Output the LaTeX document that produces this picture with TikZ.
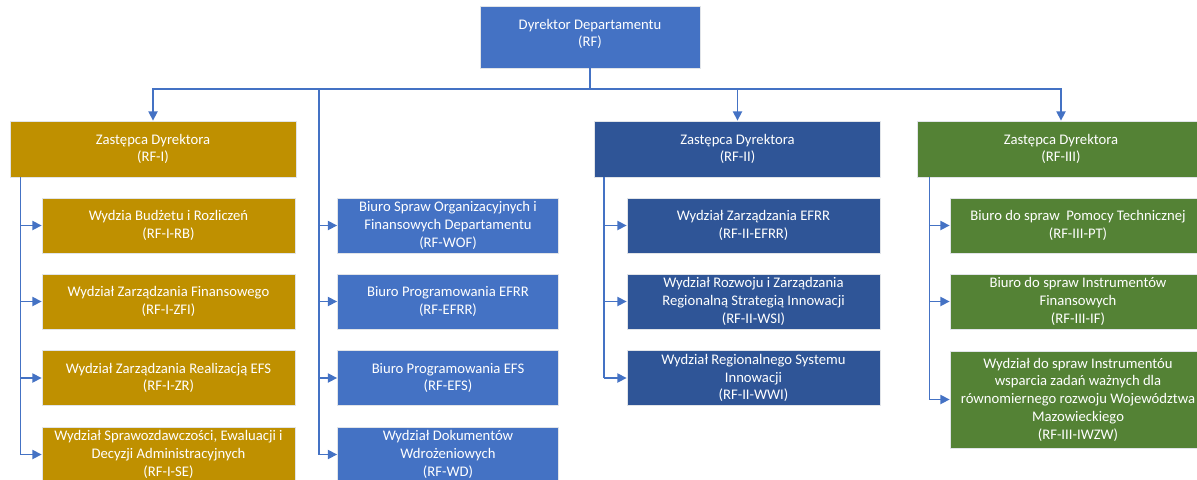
\documentclass[tikz,border=0pt]{standalone}
\usepackage{fontspec}
\setmainfont{Carlito}
\usepackage{xcolor}
\usepackage{tikz}
\usetikzlibrary{arrows.meta, positioning, calc}
\definecolor{directorblue}{RGB}{68,114,196}
\definecolor{deputygold}{RGB}{191,144,0}
\definecolor{deputynavy}{RGB}{47,85,151}
\definecolor{deputygreen}{RGB}{84,130,53}
\definecolor{edgegrey}{RGB}{225,228,232}

\begin{document}
\begin{tikzpicture}[x=0.75pt, y=-0.75pt,
    unit/.style={draw=edgegrey, line width=0.6pt, text=white, align=center,
        inner xsep=2pt, inner ysep=1pt,
        font=\fontsize{11}{13.3}\selectfont},
    deputy/.style={unit, minimum width=214.5pt, minimum height=42pt},
    section/.style={unit, minimum width=189.75pt, minimum height=41.25pt},
    link/.style={draw=directorblue, line width=1.1pt},
    arrowlink/.style={link, -{Triangle[length=7pt, width=7pt]}}]
    \useasboundingbox (0,0) rectangle (1197,479);
    \clip (0,0) rectangle (1197,479);

    % Director
    \node[unit, fill=directorblue, minimum width=165pt, minimum height=46.5pt] (dir) at (590,37)
        {Dyrektor Departamentu\\(RF)\\[-7pt]\mbox{}};

    % Deputies
    \node[deputy, fill=deputygold] (depI) at (153,149) {Zastępca Dyrektora\\(RF-I)};
    \node[deputy, fill=deputynavy] (depII) at (737.5,149) {Zastępca Dyrektora\\(RF-II)};
    \node[deputy, fill=deputygreen, minimum width=216pt] (depIII) at (1061,149) {Zastępca Dyrektora\\(RF-III)};

    % RF-I
    \node[section, fill=deputygold] (rb) at (168.5,225.5) {Wydzia Budżetu i Rozliczeń\\(RF-I-RB)};
    \node[section, fill=deputygold] (zfi) at (168.5,301.5) {Wydział Zarządzania Finansowego\\(RF-I-ZFI)};
    \node[section, fill=deputygold] (zr) at (168.5,378) {Wydział Zarządzania Realizacją EFS\\(RF-I-ZR)};
    \node[section, fill=deputygold] (se) at (168.5,454.5) {Wydział Sprawozdawczości, Ewaluacji i\\Decyzji Administracyjnych\\(RF-I-SE)};

    % Director's own offices
    \node[section, fill=directorblue, minimum width=165.75pt] (wof) at (448,225.5) {Biuro Spraw Organizacyjnych i\\Finansowych Departamentu\\(RF-WOF)};
    \node[section, fill=directorblue, minimum width=165.75pt] (efrr) at (448,301.5) {Biuro Programowania EFRR\\(RF-EFRR)};
    \node[section, fill=directorblue, minimum width=165.75pt] (efs) at (448,378) {Biuro Programowania EFS\\(RF-EFS)};
    \node[section, fill=directorblue, minimum width=165.75pt] (wd) at (448,454.5) {Wydział Dokumentów\\Wdrożeniowych\\(RF-WD)};

    % RF-II
    \node[section, fill=deputynavy] (iiefrr) at (753.5,225.5) {Wydział Zarządzania EFRR\\(RF-II-EFRR)};
    \node[section, fill=deputynavy] (wsi) at (753.5,301.5) {Wydział Rozwoju i Zarządzania\\Regionalną Strategią Innowacji\\(RF-II-WSI)};
    \node[section, fill=deputynavy] (wwi) at (753.5,378) {Wydział Regionalnego Systemu\\Innowacji\\(RF-II-WWI)};

    % RF-III
    \node[section, fill=deputygreen, minimum width=192pt] (pt) at (1078,225.5) {Biuro do spraw~ Pomocy Technicznej\\(RF-III-PT)};
    \node[section, fill=deputygreen, minimum width=192pt] (if) at (1078,301.5) {Biuro do spraw Instrumentów\\Finansowych\\(RF-III-IF)};
    \node[section, fill=deputygreen, minimum width=192pt, minimum height=72.75pt] (iwzw) at (1078,399.5)
        {Wydział do spraw Instrumentóu\\wsparcia zadań ważnych dla\\równomiernego rozwoju Województwa\\Mazowieckiego\\(RF-III-IWZW)};

    % Connections from director
    \coordinate (bus) at (590,89);
    \coordinate (staffbus) at (319,89);
    \draw[link] (dir.south) -- (bus);
    \draw[arrowlink] (bus) -| (depI.north);
    \draw[arrowlink] (bus) -| (depII.north);
    \draw[arrowlink] (bus) -| (depIII.north);
    \draw[link] (bus) -- (staffbus) -- (staffbus |- wd.west);
    \foreach \b in {wof,efrr,efs,wd}
        \draw[arrowlink] (staffbus |- \b.west) -- (\b.west);

    % Connections from deputies
    \coordinate (spineI) at ([xshift=8.25pt]depI.south west);
    \coordinate (spineII) at ([xshift=7.5pt]depII.south west);
    \coordinate (spineIII) at ([xshift=9.75pt]depIII.south west);
    \draw[link] (spineI) -- (spineI |- se.west);
    \draw[link] (spineII) -- (spineII |- wwi.west);
    \draw[link] (spineIII) -- (spineIII |- iwzw.west);
    \foreach \b in {rb,zfi,zr,se}
        \draw[arrowlink] (spineI |- \b.west) -- (\b.west);
    \foreach \b in {iiefrr,wsi,wwi}
        \draw[arrowlink] (spineII |- \b.west) -- (\b.west);
    \foreach \b in {pt,if,iwzw}
        \draw[arrowlink] (spineIII |- \b.west) -- (\b.west);
\end{tikzpicture}
\end{document}
